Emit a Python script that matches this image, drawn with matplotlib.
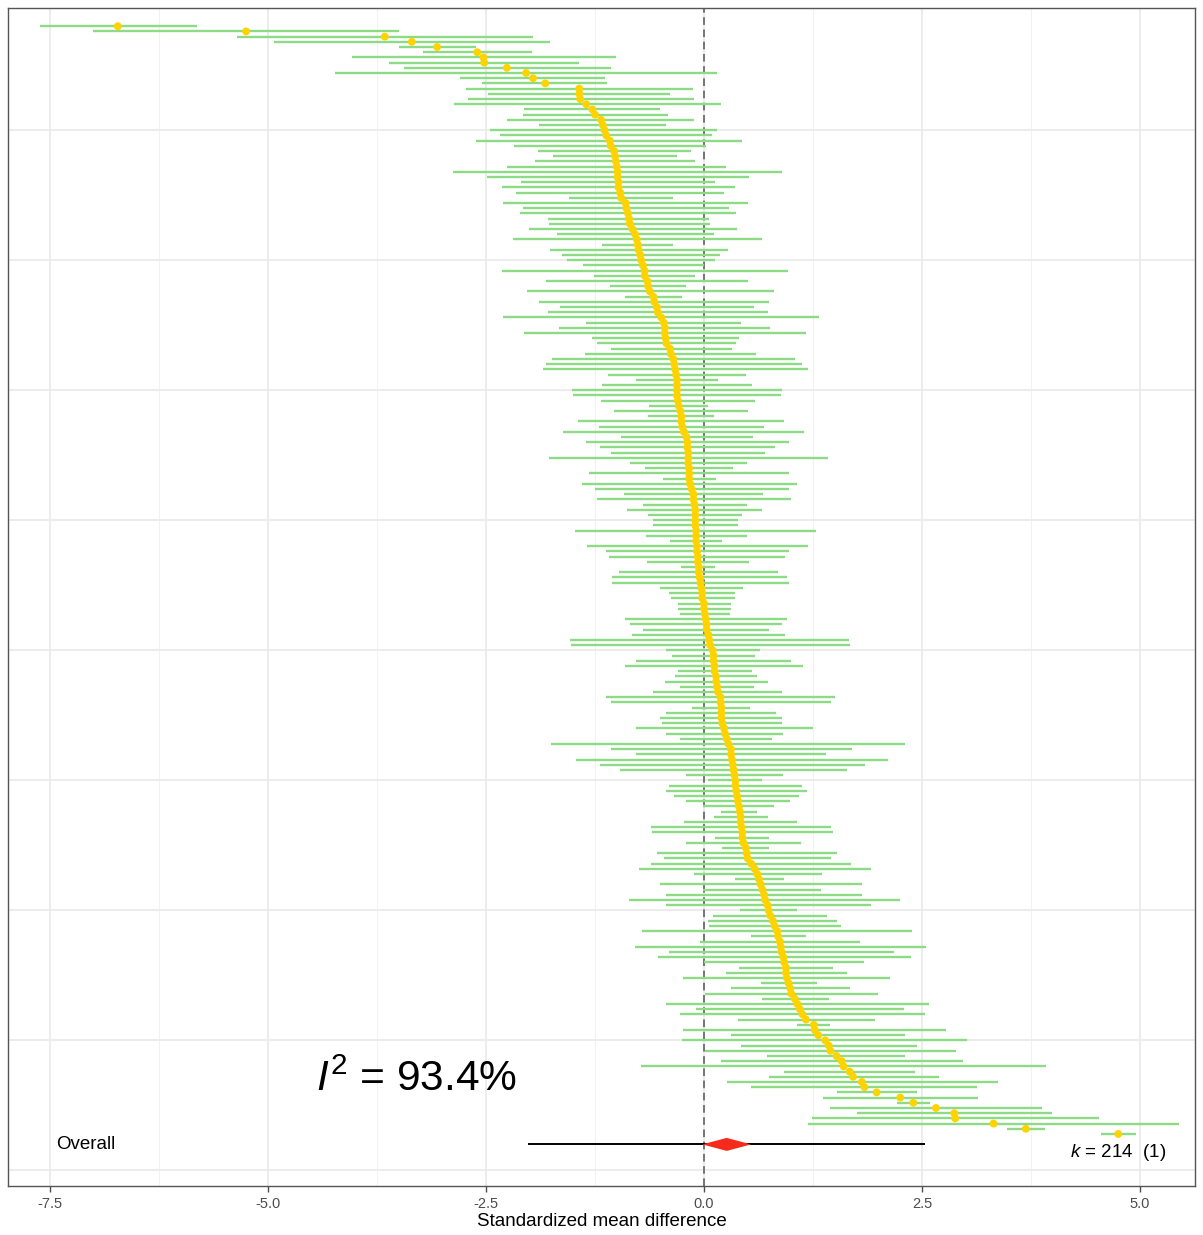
import numpy as np
import matplotlib
matplotlib.use("Agg")
import matplotlib.pyplot as plt

plt.rcParams['font.family'] = ['Liberation Sans', 'DejaVu Sans']
plt.rcParams['mathtext.fontset'] = 'custom'
plt.rcParams['mathtext.rm'] = 'Liberation Sans'
plt.rcParams['mathtext.it'] = 'Liberation Sans:italic'

# per-study standardized mean differences (sorted), with 95% CI
est = [-6.72, -5.25, -3.66, -3.35, -3.06, -2.60, -2.53, -2.52, -2.26, -2.04,
       -1.96, -1.82, -1.43, -1.43, -1.42, -1.35, -1.28, -1.25, -1.18, -1.16,
       -1.14, -1.12, -1.08, -1.07, -1.03, -1.02, -1.01, -1.00, -0.99,
       -0.99, -0.98, -0.98, -0.96, -0.95, -0.90, -0.89, -0.87, -0.86, -0.85,
       -0.82, -0.79, -0.77, -0.76, -0.75, -0.73, -0.72, -0.70, -0.68, -0.68,
       -0.65, -0.64, -0.62, -0.58, -0.57, -0.54, -0.53, -0.49, -0.46,
       -0.45, -0.45, -0.44, -0.43, -0.39, -0.38, -0.35, -0.34, -0.33, -0.32,
       -0.31, -0.31, -0.31, -0.31, -0.30, -0.29, -0.27, -0.26, -0.26, -0.25,
       -0.23, -0.20, -0.19, -0.19, -0.18, -0.18, -0.18, -0.17, -0.17,
       -0.17, -0.16, -0.14, -0.12, -0.12, -0.11, -0.10, -0.10, -0.10, -0.10,
       -0.09, -0.09, -0.09, -0.08, -0.08, -0.07, -0.07, -0.06, -0.06, -0.05,
       -0.04, -0.03, -0.02, -0.02, 0.00, 0.00, 0.01, 0.02, 0.03,
       0.03, 0.05, 0.06, 0.07, 0.10, 0.11, 0.11, 0.12, 0.12, 0.14,
       0.14, 0.15, 0.16, 0.19, 0.19, 0.20, 0.20, 0.20, 0.21, 0.23,
       0.24, 0.26, 0.28, 0.31, 0.31, 0.32, 0.33, 0.34, 0.35,
       0.36, 0.36, 0.37, 0.38, 0.39, 0.40, 0.41, 0.42, 0.42, 0.43,
       0.44, 0.44, 0.45, 0.48, 0.49, 0.50, 0.54, 0.58, 0.61, 0.63,
       0.65, 0.67, 0.69, 0.70, 0.73, 0.74, 0.76, 0.79,
       0.81, 0.84, 0.85, 0.87, 0.88, 0.89, 0.91, 0.92, 0.94, 0.94,
       0.95, 0.97, 0.99, 1.00, 1.04, 1.07, 1.10, 1.13, 1.17, 1.26,
       1.27, 1.31, 1.39, 1.43, 1.45, 1.52, 1.58, 1.60, 1.67, 1.71,
       1.81, 1.84, 1.98, 2.25, 2.40, 2.66, 2.87, 2.88, 3.32, 3.69, 4.75]

lo = [-7.61, -7.01, -5.35, -4.93, -3.50, -3.22, -4.04, -3.61, -3.44, -4.23,
      -2.80, -2.54, -2.73, -2.48, -2.71, -2.87, -2.06, -2.08, -2.26, -1.89,
      -2.45, -2.34, -2.61, -2.18, -1.90, -1.73, -1.94, -2.26, -2.88,
      -2.49, -2.10, -2.32, -2.15, -1.55, -2.30, -2.08, -2.11, -1.79, -1.78,
      -2.01, -1.69, -2.19, -1.17, -1.77, -1.63, -1.57, -1.39, -2.32, -1.26,
      -1.81, -1.08, -2.03, -0.90, -1.89, -1.65, -1.79, -2.30, -1.35,
      -1.66, -2.06, -1.28, -1.23, -1.07, -1.36, -1.74, -1.81, -1.85, -1.10,
      -0.78, -1.17, -1.51, -1.50, -1.18, -0.63, -1.03, -0.64, -1.44, -1.20,
      -1.62, -0.95, -1.35, -1.19, -1.07, -1.78, -0.85, -0.68, -1.32,
      -0.47, -1.40, -1.25, -0.92, -1.23, -0.70, -0.88, -0.64, -0.59, -0.58,
      -1.48, -0.67, -0.39, -1.34, -1.12, -1.09, -0.65, -0.26, -0.97, -1.05,
      -1.05, -0.50, -0.40, -0.38, -0.30, -0.30, -0.28, -0.90, -0.85,
      -0.70, -0.83, -1.54, -1.53, -0.44, -0.37, -0.78, -0.91, -0.30, -0.33,
      -0.45, -0.28, -0.59, -1.12, -1.07, -0.14, -0.44, -0.50, -0.48, -0.78,
      -0.44, -0.27, -1.75, -1.07, -0.78, -1.47, -1.19, -0.96, -0.21,
      0.05, -0.40, -0.44, -0.34, -0.21, -0.01, 0.20, 0.11, -0.23, -0.61,
      -0.60, 0.13, -0.21, 0.21, -0.54, -0.46, -0.61, -0.74, -0.12, 0.35,
      -0.50, -0.01, -0.43, -0.86, -0.43, 0.41, 0.10, 0.05,
      0.06, -0.71, 0.54, -0.04, -0.79, -0.40, -0.53, 0.00, 0.40, 0.25,
      -0.24, 0.65, 0.31, 0.01, 0.66, -0.43, -0.09, -0.27, 0.39, 1.07,
      -0.24, 0.31, -0.25, 0.42, 0.01, 0.72, 0.19, -0.72, 0.92, 0.74,
      0.26, 0.54, 1.53, 1.36, 2.21, 1.44, 1.76, 1.24, 1.19, 3.48, 4.55]

hi = [-5.81, -3.50, -1.96, -1.76, -2.61, -1.97, -1.01, -1.43, -1.07, 0.15,
      -1.13, -1.11, -0.13, -0.39, -0.11, 0.19, -0.50, -0.41, -0.11, -0.43,
      0.15, 0.09, 0.44, 0.02, -0.15, -0.31, -0.10, 0.25, 0.89,
      0.52, 0.13, 0.36, 0.23, -0.36, 0.50, 0.29, 0.37, 0.06, 0.07,
      0.38, 0.12, 0.67, -0.35, 0.27, 0.18, 0.13, 0.00, 0.96, -0.10,
      0.51, -0.21, 0.80, -0.25, 0.75, 0.57, 0.73, 1.32, 0.43,
      0.76, 1.17, 0.40, 0.37, 0.32, 0.60, 1.04, 1.12, 1.19, 0.48,
      0.16, 0.55, 0.89, 0.88, 0.58, 0.05, 0.50, 0.11, 0.92, 0.69,
      1.15, 0.56, 0.97, 0.82, 0.70, 1.42, 0.49, 0.33, 0.97,
      0.14, 1.07, 0.98, 0.68, 1.00, 0.49, 0.67, 0.44, 0.39, 0.39,
      1.29, 0.49, 0.21, 1.19, 0.97, 0.93, 0.52, 0.13, 0.85, 0.95,
      0.97, 0.45, 0.35, 0.35, 0.31, 0.31, 0.30, 0.95, 0.90,
      0.75, 0.93, 1.66, 1.67, 0.64, 0.59, 1.00, 1.14, 0.55, 0.61,
      0.73, 0.57, 0.90, 1.50, 1.46, 0.53, 0.83, 0.90, 0.90, 1.25,
      0.91, 0.78, 2.30, 1.70, 1.40, 2.11, 1.85, 1.64, 0.91,
      0.66, 1.12, 1.18, 1.09, 0.99, 0.80, 0.61, 0.73, 1.07, 1.46,
      1.48, 0.75, 1.11, 0.75, 1.53, 1.46, 1.69, 1.91, 1.35, 0.92,
      1.81, 1.34, 1.81, 2.25, 1.91, 1.07, 1.41, 1.53,
      1.57, 2.39, 1.17, 1.79, 2.55, 2.18, 2.37, 1.84, 1.48, 1.64,
      2.13, 1.30, 1.67, 1.99, 1.43, 2.58, 2.29, 2.53, 1.96, 1.45,
      2.78, 2.31, 3.02, 2.44, 2.89, 2.31, 2.97, 3.92, 2.42, 2.69,
      3.37, 3.13, 2.44, 3.14, 2.59, 3.88, 3.99, 4.53, 5.45, 3.91, 4.95]

# pooled estimate, its CI and the prediction interval
overall_est = 0.26
overall_ci = (-0.02, 0.54)
overall_pi = (-2.02, 2.53)
i2 = 93.4

xticks = [-7.5, -5.0, -2.5, 0.0, 2.5, 5.0]
xlabels = ["-7.5", "-5.0", "-2.5", "0.0", "2.5", "5.0"]

assert len(est) == len(lo) == len(hi)
k = len(est)
rows = np.arange(k)
overall_row = k + 1

fig = plt.figure(figsize=(12.03, 12.35), dpi=100)
ax = fig.add_axes([8 / 1203, 49 / 1235, 1187 / 1203, 1178 / 1235])

# grid
for x in xticks:
    ax.axvline(x, color="#EBEBEB", lw=1.3, zorder=0)
for x in np.array(xticks[:-1]) + 1.25:
    ax.axvline(x, color="#F2F2F2", lw=0.8, zorder=0)
for y in np.arange(20, 225, 25):
    ax.axhline(y, color="#EBEBEB", lw=1.3, zorder=0)

ax.axvline(0, color="#555555", lw=1.1, ls=(0, (5, 3)), zorder=1)

ax.hlines(rows, lo, hi, color="#8EDB85", lw=1.7, zorder=2)
ax.scatter(est, rows, s=32, color="#FFD300", edgecolor="none", zorder=3)

# overall row: prediction interval + diamond
ax.hlines(overall_row, *overall_pi, color="black", lw=1.4, zorder=2)
h = 1.25
ax.fill([overall_ci[0], overall_est, overall_ci[1], overall_est],
        [overall_row, overall_row - h, overall_row, overall_row + h],
        color="#F52A1B", lw=0, zorder=3)

ax.text(-7.43, overall_row, "Overall", ha="left", va="center", fontsize=13.5)
ax.text(-3.3, 202.5, r"$I^2$" + f" = {i2}%", ha="center", va="center",
        fontsize=30.5)
ax.text(5.3, overall_row + 1.6, r"$k$" + f" = {k}  (1)", ha="right",
        va="center", fontsize=13.5)

ax.set_xlim(-7.98, 5.63)
ax.set_ylim(223.0, -3.5)
ax.set_xticks(xticks)
ax.set_xticklabels(xlabels)
ax.set_yticks([])
ax.tick_params(axis="x", colors="#4D4D4D", labelsize=10.5, length=4,
               width=1, pad=4)
ax.set_xlabel("Standardized mean difference", fontsize=13.5, labelpad=1)
for s in ax.spines.values():
    s.set_color("#555555")
    s.set_linewidth(1.0)

fig.savefig("out.png", dpi=100)
